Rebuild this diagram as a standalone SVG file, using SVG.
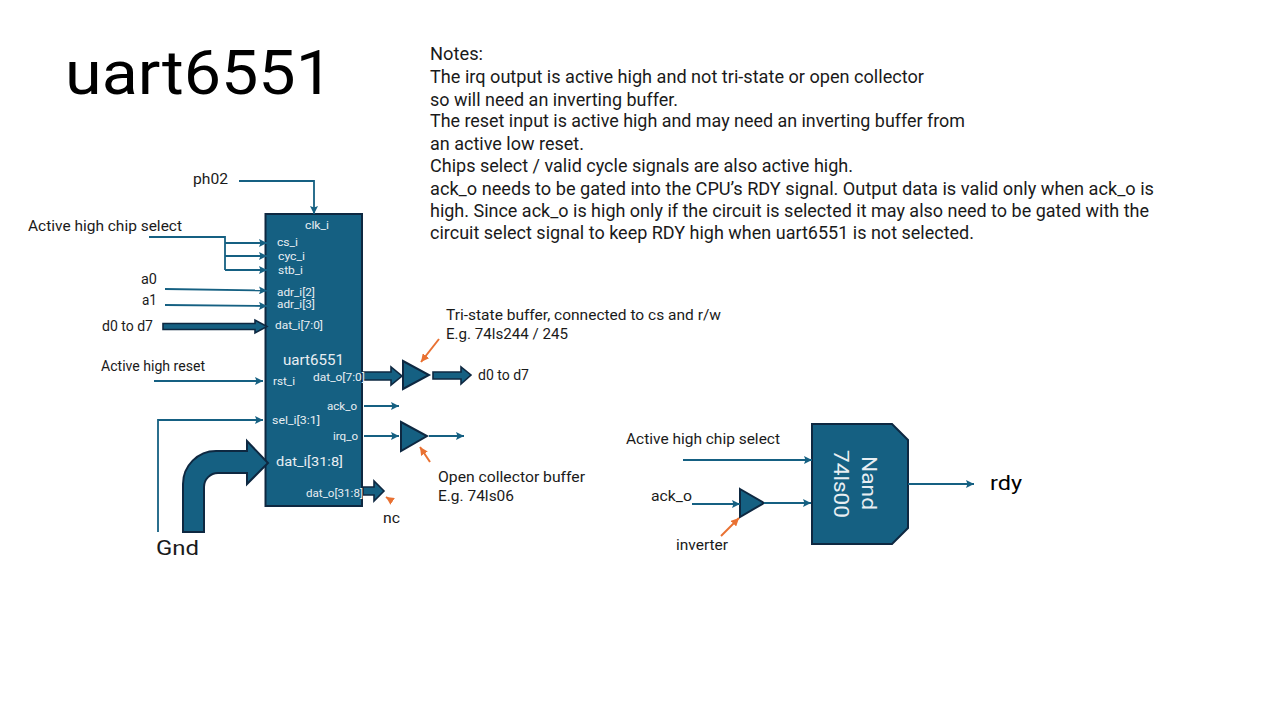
<svg xmlns="http://www.w3.org/2000/svg" width="1280" height="720" viewBox="0 0 1280 720">
<style>
text{font-family:"Roboto","Liberation Sans",sans-serif;fill:#1a1a1a;font-size:14.5px}
.w{fill:#e8eef2;font-size:11px}
.s{font-size:10.200px}
.n{font-size:17.500px}
.shape{fill:#156082;stroke:#0e2841;stroke-width:2}
.wire{fill:none;stroke:#156082;stroke-width:1.800}
.arr{fill:none;stroke:#156082;stroke-width:1.800;marker-end:url(#a)}
.or{fill:none;stroke:#e97132;stroke-width:2;marker-end:url(#o)}
</style>
<defs>
<marker id="a" markerUnits="userSpaceOnUse" markerWidth="9" markerHeight="8" refX="8" refY="4" orient="auto"><path d="M0 0L8 4L0 8L1.5 4Z" fill="#156082"/></marker>
<marker id="o" markerUnits="userSpaceOnUse" markerWidth="9" markerHeight="8" refX="8" refY="4" orient="auto"><path d="M0 0L8 4L0 8Z" fill="#e97132"/></marker>
</defs>
<rect width="1280" height="720" fill="#fff"/>
<text x="65" y="94" style="font-size:62px;fill:#000" textLength="268" lengthAdjust="spacingAndGlyphs">uart6551</text>
<g id="notes">
<text class="n" x="430" y="60" textLength="53" lengthAdjust="spacingAndGlyphs">Notes:</text>
<text class="n" x="430" y="83" textLength="494" lengthAdjust="spacingAndGlyphs">The irq output is active high and not tri-state or open collector</text>
<text class="n" x="430" y="106" textLength="248" lengthAdjust="spacingAndGlyphs">so will need an inverting buffer.</text>
<text class="n" x="430" y="127" textLength="535" lengthAdjust="spacingAndGlyphs">The reset input is active high and may need an inverting buffer from</text>
<text class="n" x="430" y="150" textLength="154" lengthAdjust="spacingAndGlyphs">an active low reset.</text>
<text class="n" x="430" y="172" textLength="423" lengthAdjust="spacingAndGlyphs">Chips select / valid cycle signals are also active high.</text>
<text class="n" x="430" y="195" textLength="724" lengthAdjust="spacingAndGlyphs">ack_o needs to be gated into the CPU’s RDY signal. Output data is valid only when ack_o is</text>
<text class="n" x="430" y="217" textLength="719" lengthAdjust="spacingAndGlyphs">high. Since ack_o is high only if the circuit is selected it may also need to be gated with the</text>
<text class="n" x="430" y="239" textLength="544" lengthAdjust="spacingAndGlyphs">circuit select signal to keep RDY high when uart6551 is not selected.</text>
</g>
<g id="uart">
<rect class="shape" x="265.500" y="214" width="96.500" height="292"/>
<text class="w" x="305" y="229" textLength="24" lengthAdjust="spacingAndGlyphs">clk_i</text>
<text class="w" x="277" y="246" textLength="21" lengthAdjust="spacingAndGlyphs">cs_i</text>
<text class="w" x="278" y="260" textLength="27" lengthAdjust="spacingAndGlyphs">cyc_i</text>
<text class="w" x="278" y="274" textLength="25" lengthAdjust="spacingAndGlyphs">stb_i</text>
<text class="w s" x="277" y="296" textLength="38" lengthAdjust="spacingAndGlyphs">adr_i[2]</text>
<text class="w s" x="277" y="308" textLength="38" lengthAdjust="spacingAndGlyphs">adr_i[3]</text>
<text class="w" x="275" y="329" textLength="48" lengthAdjust="spacingAndGlyphs">dat_i[7:0]</text>
<text class="w" x="283" y="365" style="font-size:14.500px" textLength="61" lengthAdjust="spacingAndGlyphs">uart6551</text>
<text class="w" x="273" y="385" textLength="22" lengthAdjust="spacingAndGlyphs">rst_i</text>
<text class="w" x="327" y="410" textLength="30" lengthAdjust="spacingAndGlyphs">ack_o</text>
<text class="w" x="272" y="424" textLength="48" lengthAdjust="spacingAndGlyphs">sel_i[3:1]</text>
<text class="w" x="333" y="440" textLength="25" lengthAdjust="spacingAndGlyphs">irq_o</text>
<text class="w" x="276" y="466" style="font-size:13px" textLength="67" lengthAdjust="spacingAndGlyphs">dat_i[31:8]</text>
</g>
<g id="labels">
<text x="193" y="184" textLength="35" lengthAdjust="spacingAndGlyphs">ph02</text>
<text x="28" y="231" textLength="154" lengthAdjust="spacingAndGlyphs">Active high chip select</text>
<text x="141" y="284" textLength="16" lengthAdjust="spacingAndGlyphs">a0</text>
<text x="142" y="305" textLength="15" lengthAdjust="spacingAndGlyphs">a1</text>
<text x="102" y="331" textLength="51" lengthAdjust="spacingAndGlyphs">d0 to d7</text>
<text x="101" y="371" textLength="104" lengthAdjust="spacingAndGlyphs">Active high reset</text>
<text x="156" y="555" style="font-size:21px" textLength="43" lengthAdjust="spacingAndGlyphs">Gnd</text>
<text x="383" y="523" textLength="17" lengthAdjust="spacingAndGlyphs">nc</text>
<text x="446" y="320" textLength="275" lengthAdjust="spacingAndGlyphs">Tri-state buffer, connected to cs and r/w</text>
<text x="446" y="339" textLength="122" lengthAdjust="spacingAndGlyphs">E.g. 74ls244 / 245</text>
<text x="478" y="380" textLength="51" lengthAdjust="spacingAndGlyphs">d0 to d7</text>
<text x="438" y="482" textLength="147" lengthAdjust="spacingAndGlyphs">Open collector buffer</text>
<text x="438" y="501" textLength="76" lengthAdjust="spacingAndGlyphs">E.g. 74ls06</text>
<text x="626" y="444" textLength="154" lengthAdjust="spacingAndGlyphs">Active high chip select</text>
<text x="651" y="501" textLength="41" lengthAdjust="spacingAndGlyphs">ack_o</text>
<text x="676" y="550" textLength="52" lengthAdjust="spacingAndGlyphs">inverter</text>
<text x="990" y="490" style="font-size:21px;fill:#000" textLength="32" lengthAdjust="spacingAndGlyphs">rdy</text>
</g>
<g id="buf1"><path class="shape" d="M403 361L429 375L403 389Z"/></g>
<g id="buf2"><path class="shape" d="M401 422L427 436L401 451Z"/></g>
<g id="inv"><path class="shape" d="M740 489L764 503L740 517Z"/></g>
<g id="nand">
<path class="shape" d="M812 424H892L908 440V528L892 544H812Z"/>
<text class="w" transform="translate(862,456) rotate(90)" style="font-size:21px" textLength="54" lengthAdjust="spacingAndGlyphs">Nand</text>
<text class="w" transform="translate(834,450) rotate(90)" style="font-size:21px" textLength="68" lengthAdjust="spacingAndGlyphs">74ls00</text>
</g>
<g id="connectors">
<path class="arr" d="M239 181H314V214"/>
<path class="wire" d="M149 237H225V270"/>
<path class="arr" d="M225 243H267"/>
<path class="arr" d="M225 256H267"/>
<path class="arr" d="M225 270H267"/>
<path class="arr" d="M165 289L267 290.500"/>
<path class="arr" d="M165 305L267 306"/>
<path class="shape" style="stroke-width:1.600" d="M163 323.500H255V320L267 326.500L255 333V329.500H163Z"/>
<path class="arr" d="M154 381H263"/>
<path class="arr" d="M158 532V420H263"/>
<path class="shape" d="M183 532V484A33 33 0 0 1 216 451H247V441L268 463L247 484V473H218A14 14 0 0 0 204 487V532Z"/>
<path class="shape" style="stroke-width:1.600" d="M363 372H391V367L402 376L391 385V380H363Z"/>
<path class="shape" style="stroke-width:1.600" d="M433 372H461V367L471 375L461 384V379H433Z"/>
<path class="arr" d="M364 406H399"/>
<path class="arr" d="M364 436H399"/>
<path class="arr" d="M429 436H464"/>
<path class="shape" style="stroke-width:1.600" d="M363 487H374V481L384 491L374 501V495H363Z"/>
<path class="arr" d="M683 460H812"/>
<path class="arr" d="M692 504H740"/>
<path class="arr" d="M764 503H811"/>
<path class="arr" d="M908 484H974"/>
<path class="or" d="M439 339L421 362"/>
<path class="or" d="M430 462L420 447"/>
<path class="or" d="M392 501L386 497"/>
<path class="or" d="M721 536L739 518"/>
</g>
<g id="uart-output-labels">
<text class="w" x="313" y="381" textLength="52" lengthAdjust="spacingAndGlyphs">dat_o[7:0]</text>
<text class="w" x="306" y="497" textLength="57" lengthAdjust="spacingAndGlyphs">dat_o[31:8]</text>
</g>
</svg>
